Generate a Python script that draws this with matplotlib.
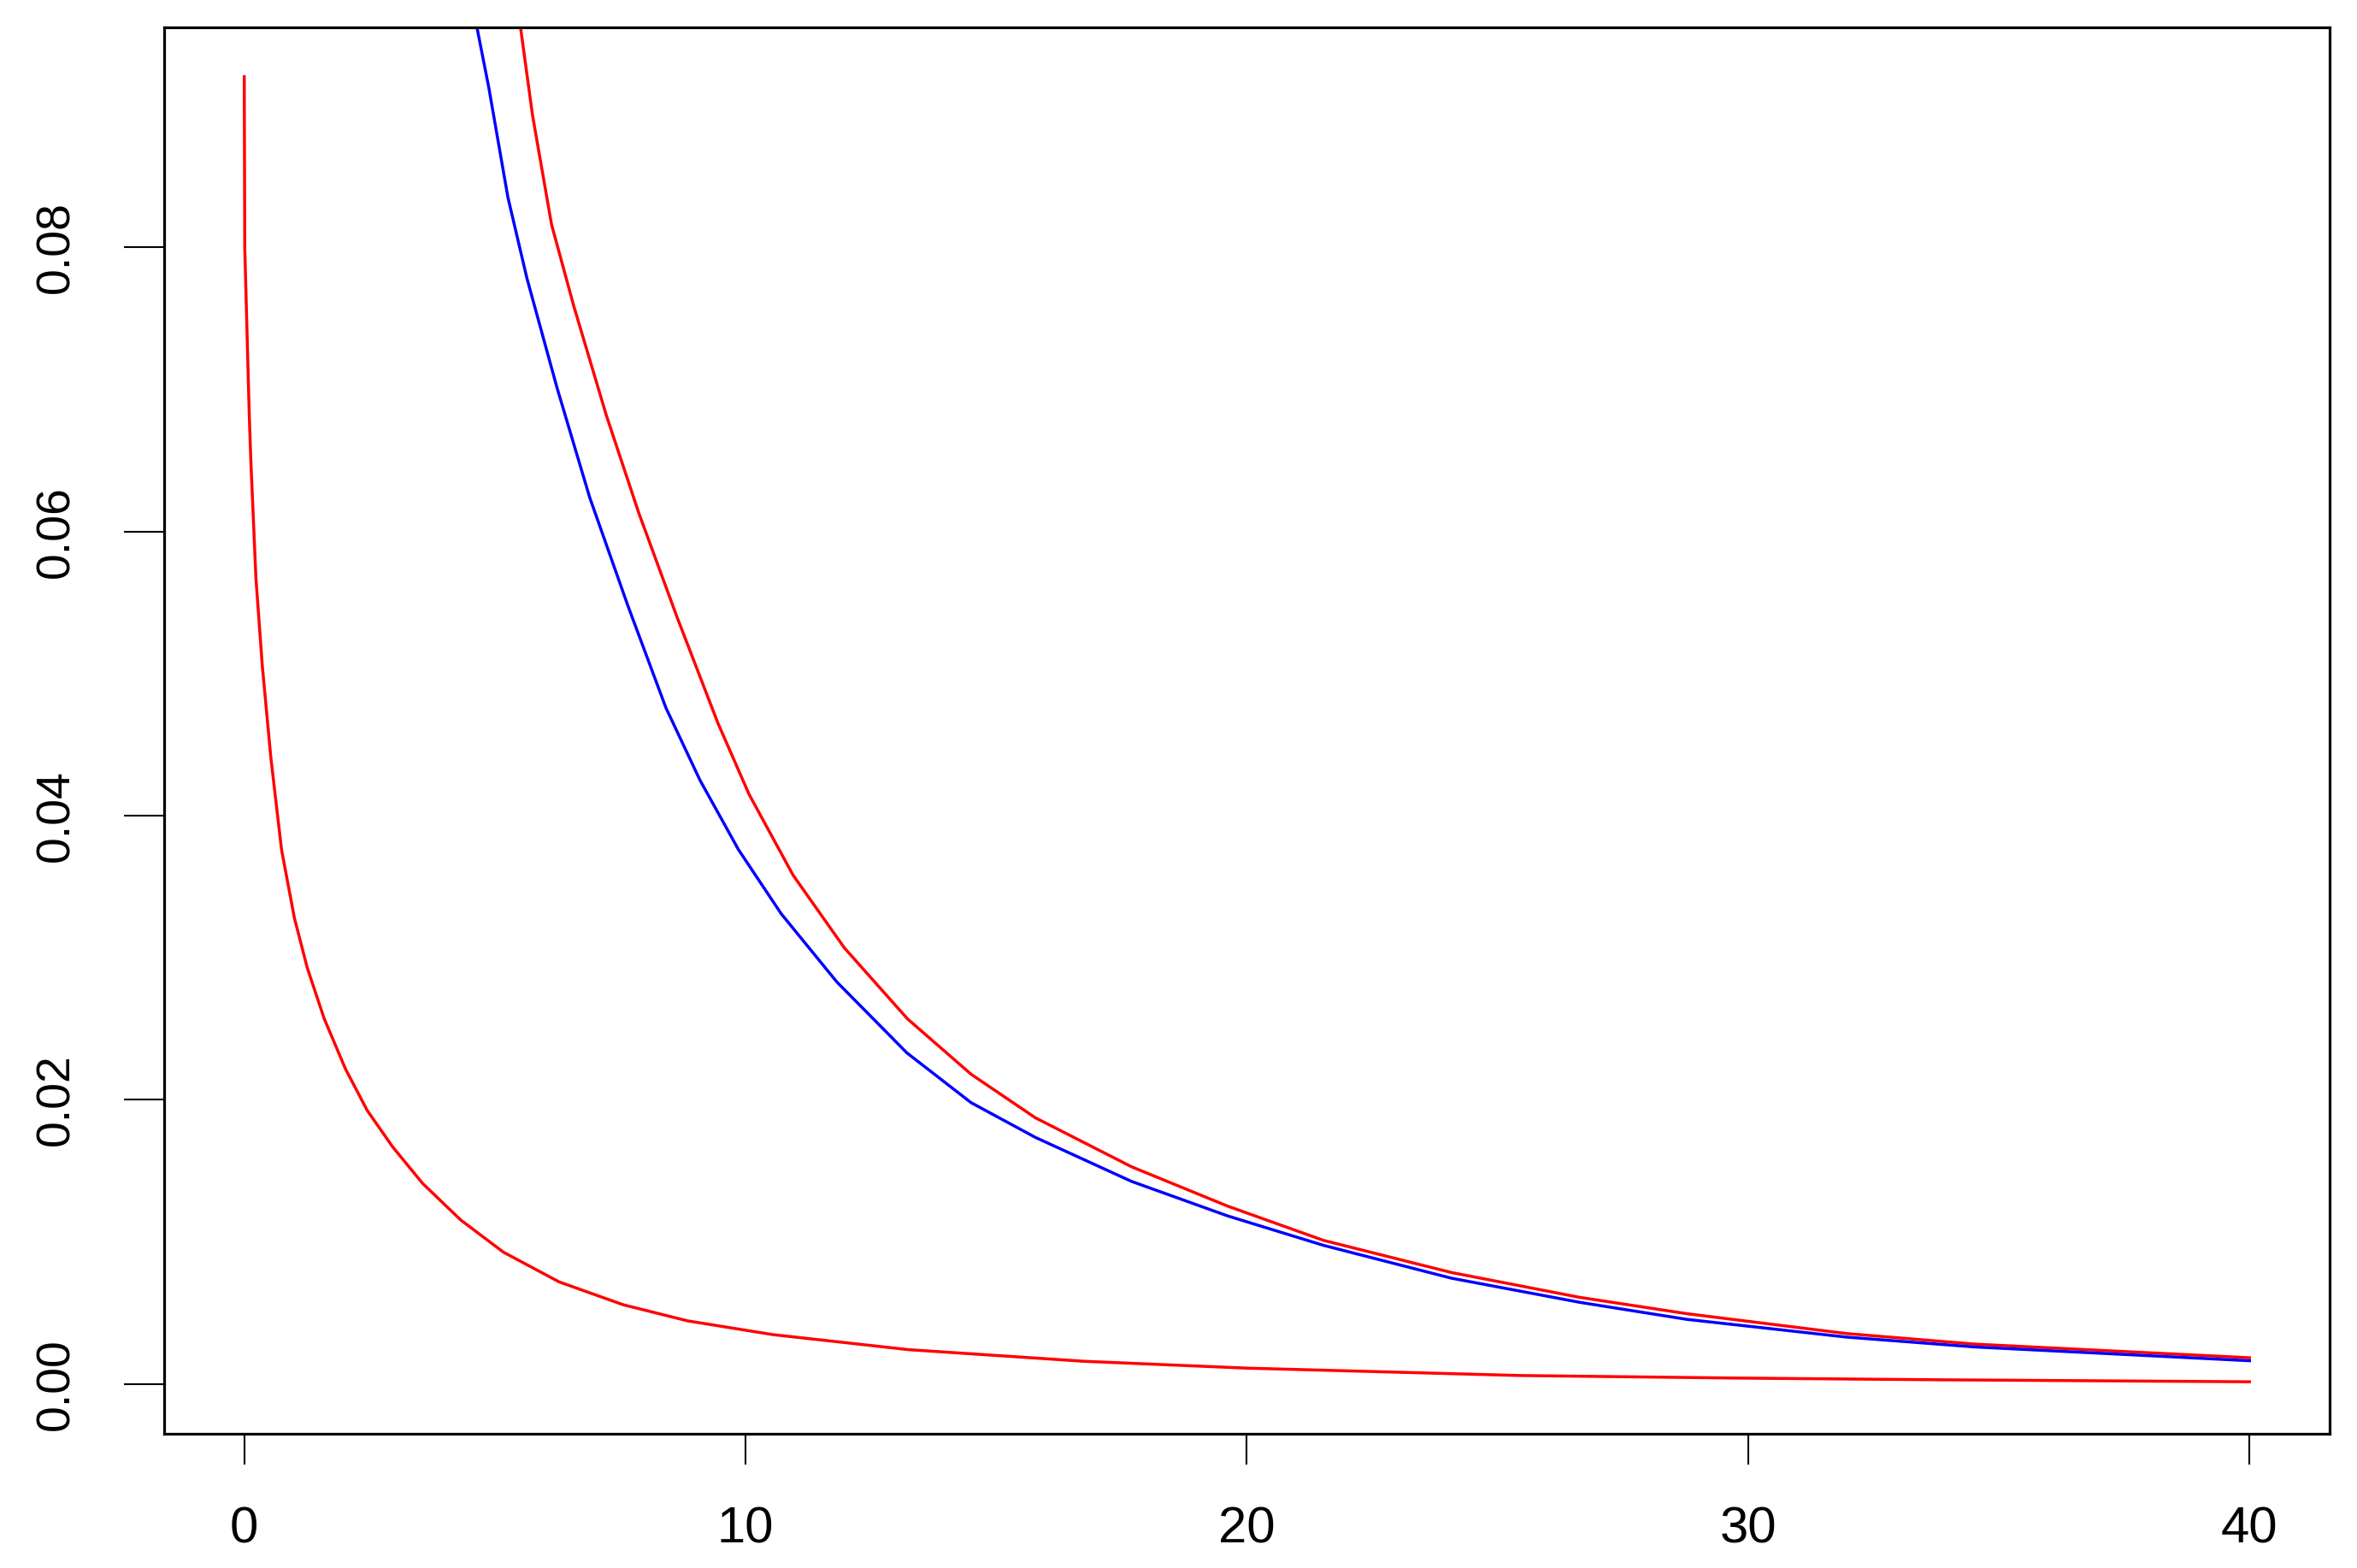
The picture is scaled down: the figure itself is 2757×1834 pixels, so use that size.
import matplotlib.pyplot as plt

# lower red curve
x_low = [0.0, 0.01, 0.063, 0.10, 0.131, 0.233, 0.361, 0.53, 0.744, 1.0, 1.256, 1.596,
         2.02, 2.45, 2.96, 3.56, 4.32, 5.17, 6.28, 7.56, 8.84, 10.54, 13.25, 16.76,
         20.0, 25.45, 29.80, 33.79, 40.0]
y_low = [0.0920, 0.0800, 0.0730, 0.0682, 0.0650, 0.0567, 0.0505, 0.0441, 0.0376,
         0.0328, 0.0293, 0.0257, 0.02217, 0.01927, 0.01669, 0.01411, 0.01154, 0.00928,
         0.00719, 0.00558, 0.00445, 0.00348, 0.00242, 0.00160, 0.00112, 0.00060,
         0.00042, 0.00030, 0.00016]

# blue curve
x_blue = [4.64, 4.88, 5.26, 5.64, 6.24, 6.89, 7.65, 8.41, 9.09, 9.86, 10.71, 11.82,
          13.22, 14.50, 15.78, 17.70, 19.61, 21.53, 24.08, 26.64, 28.78, 31.97,
          34.52, 40.0]
y_blue = [0.0955, 0.0912, 0.0835, 0.0778, 0.0701, 0.0624, 0.0548, 0.0476, 0.0425,
          0.0376, 0.0331, 0.0283, 0.0233, 0.0198, 0.01736, 0.01426, 0.01184, 0.00976,
          0.00745, 0.00575, 0.00455, 0.00330, 0.00261, 0.00164]

# upper red curve
x_high = [5.51, 5.75, 6.13, 6.57, 7.22, 7.87, 8.63, 9.45, 10.07, 10.95, 11.97, 13.23,
          14.50, 15.78, 17.70, 19.61, 21.53, 24.08, 26.64, 28.78, 31.97, 34.52, 40.0]
y_high = [0.0955, 0.0893, 0.0816, 0.0759, 0.0682, 0.0613, 0.0540, 0.0465, 0.0415,
          0.0358, 0.0307, 0.0257, 0.0218, 0.01874, 0.01529, 0.01253, 0.01011, 0.00785,
          0.00610, 0.00495, 0.00355, 0.00281, 0.00185]

x_ticks = [0, 10, 20, 30, 40]
y_ticks = [0.00, 0.02, 0.04, 0.06, 0.08]
y_tick_labels = ["0.00", "0.02", "0.04", "0.06", "0.08"]

plt.rcParams['font.family'] = ['Liberation Sans', 'DejaVu Sans']

fig = plt.figure(figsize=(27.57, 18.34), dpi=100)
ax = fig.add_axes([0.0696, 0.0856, 0.9188, 0.8972])

ax.plot(x_low, y_low, color='red', lw=2.5, solid_joinstyle='round')
ax.plot(x_high, y_high, color='red', lw=2.5, solid_joinstyle='round')
ax.plot(x_blue, y_blue, color='blue', lw=2.5, solid_joinstyle='round')

ax.set_xlim(-1.6, 41.6)
ax.set_ylim(-0.0035, 0.0955)

ax.set_xticks(x_ticks)
ax.set_xticklabels([str(t) for t in x_ticks])
ax.set_yticks(y_ticks)
ax.set_yticklabels(y_tick_labels, rotation=90, va='center')

ax.tick_params(axis='x', direction='out', length=26, width=1.5, pad=35, labelsize=43)
ax.tick_params(axis='y', direction='out', length=34, width=1.5, pad=38, labelsize=40)

for spine in ax.spines.values():
    spine.set_linewidth(2.3)
    spine.set_color('black')

fig.savefig('out.png', dpi=100)
